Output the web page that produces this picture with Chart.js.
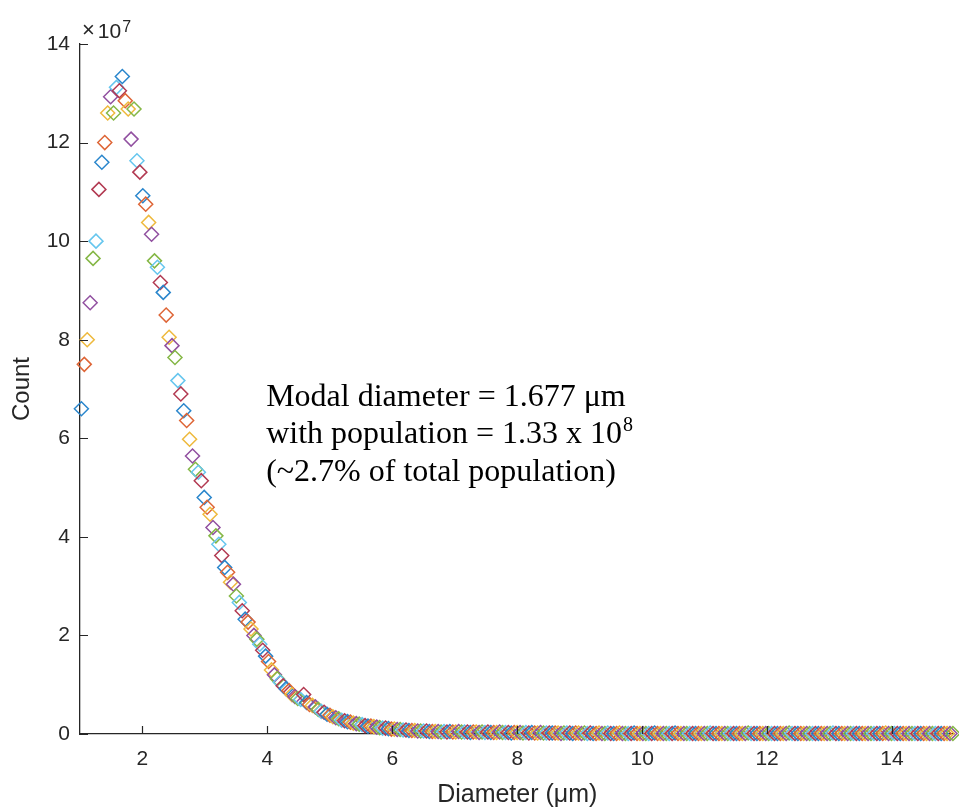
<!DOCTYPE html>
<html><head><meta charset="utf-8">
<script src="https://cdn.jsdelivr.net/npm/chart.js@4/dist/chart.umd.min.js"></script>
<style>html,body{margin:0;padding:0;background:#fff;overflow:hidden;} #wrap{width:963px;height:811px;}</style>
</head><body><div id="wrap"><canvas id="c" width="963" height="811"></canvas></div>
<script>
// Bin grid (diameter, µm)
const binStart = 1.022;
const binWidth = 0.04682;
// Counts per bin, in units of 1e7
const counts = [
6.60,7.50,8.00,8.75,9.65,10.00,11.05,11.60,12.00,12.60,
12.93,12.60,13.12,13.05,13.34,12.85,12.68,12.07,12.68,11.63,
11.40,10.92,10.75,10.38,10.14,9.60,9.47,9.16,8.96,8.50,
8.05,7.88,7.64,7.17,6.90,6.56,6.36,5.98,5.64,5.37,
5.31,5.14,4.80,4.60,4.46,4.19,4.02,3.85,3.62,3.38,
3.28,3.08,3.04,2.80,2.67,2.50,2.33,2.27,2.13,2.00,
1.92,1.82,1.70,1.58,1.47,1.30,1.20,1.12,1.05,0.98,
0.92,0.88,0.80,0.76,0.72,0.70,0.80,0.64,0.60,0.58,
0.55,0.50,0.46,0.44,0.40,0.38,0.35,0.33,0.31,0.28,
0.27,0.25,0.24,0.22,0.21,0.20,0.19,0.17,0.16,0.16,
0.15,0.14,0.13,0.12,0.12,0.11,0.10,0.10,0.09,0.09,
0.08,0.08,0.07,0.07,0.07,0.06,0.06,0.06,0.06,0.05,
0.05,
0.05,0.05,0.04,0.05,0.04,0.05,0.04,0.04,0.05,0.04,
0.04,0.04,0.03,0.04,0.04,0.03,0.04,0.03,0.04,0.03,
0.03,0.03,0.04,0.03,0.03,0.03,0.02,0.03,0.03,0.03,
0.02,0.03,0.02,0.03,0.02,0.02,0.03,0.02,0.02,0.02,
0.02,0.02,0.02,0.01,0.02,0.02,0.02,0.01,0.02,0.02,
0.01,0.02,0.01,0.02,0.01,0.01,0.02,0.01,0.01,0.02,
0.01,0.01,0.01,0.02,0.01,0.01,0.01,0.01,0.02,0.01,
0.01,0.01,0.01,0.01,0.01,0.02,0.01,0.01,0.01,0.01,
0.01,0.01,0.02,0.01,0.01,0.01,0.01,0.01,0.01,0.01,
0.01,0.01,0.01,0.01,0.02,0.01,0.01,0.01,0.01,0.01,
0.01,0.01,0.01,0.01,0.01,0.01,0.01,0.02,0.01,0.01,
0.01,0.01,0.01,0.01,0.01,0.01,0.01,0.01,0.01,0.01,
0.01,0.02,0.01,0.01,0.01,0.01,0.01,0.01,0.01,0.01,
0.01,0.01,0.01,0.01,0.01,0.01,0.02,0.01,0.01,0.01,
0.01,0.01,0.01,0.01,0.01,0.01,0.01,0.01,0.01,0.01,
0.01,0.01,0.01,0.01,0.02,0.01,0.01,0.01,0.01,0.01,
0.01,0.01,0.01,0.01,0.01,0.01,0.01,0.01,0.01,0.01,
0.01,0.01,0.01,0.01,0.01,0.01,0.01,0.01
];
const diameters = counts.map((_, i) => +(binStart + i * binWidth).toFixed(4));
const markerColors = ['#2A86CC','#DE6536','#EEB93C','#9150A0','#85B746','#66C6EE','#B23A52'];
const xTicks = [2, 4, 6, 8, 10, 12, 14];
const yTicks = [0, 2, 4, 6, 8, 10, 12, 14];
const xTitle = 'Diameter (\u03BCm)';
const yTitle = 'Count';
const exponentTimes = '\u00D7';
const exponentBase = '10';
const exponentPower = '7';
const annotLines = ['Modal diameter = 1.677 \u03BCm', 'with population = 1.33 x 10', '(~2.7% of total population)'];
const annotSup = '8';
const annotAnchor = { x: 3.98, y: 6.66 };

const axisColor = '#262626';
const sansFamily = "'Liberation Sans', Arial, sans-serif";
const points = counts.map((v, i) => ({ x: diameters[i], y: v }));

const innerTicks = {
  id: 'innerTicks',
  afterDraw(chart) {
    const { ctx, scales: { x, y }, chartArea } = chart;
    ctx.save();
    ctx.strokeStyle = axisColor;
    ctx.lineWidth = 1.2;
    ctx.beginPath();
    xTicks.forEach(v => { const p = Math.round(x.getPixelForValue(v)) + 0.5; ctx.moveTo(p, chartArea.bottom); ctx.lineTo(p, chartArea.bottom - 8); });
    yTicks.forEach(v => { const p = Math.round(y.getPixelForValue(v)) + 0.5; ctx.moveTo(chartArea.left, p); ctx.lineTo(chartArea.left + 8, p); });
    ctx.stroke();
    // exponent label
    ctx.fillStyle = axisColor;
    ctx.textBaseline = 'alphabetic';
    ctx.textAlign = 'left';
    const ex = chartArea.left + 2, ey = chartArea.top - 6;
    ctx.font = "22px " + sansFamily;
    ctx.fillText(exponentTimes, ex, ey - 1);
    const wt = ctx.measureText(exponentTimes).width;
    ctx.font = "21px " + sansFamily;
    ctx.fillText(exponentBase, ex + wt + 3, ey);
    const wb = ctx.measureText(exponentBase).width;
    ctx.font = "16px " + sansFamily;
    ctx.fillText(exponentPower, ex + wt + 3 + wb + 1, ey - 6);
    // annotation
    ctx.fillStyle = '#000';
    ctx.font = "32px 'Liberation Serif', 'Times New Roman', serif";
    const ax = x.getPixelForValue(annotAnchor.x), ay = y.getPixelForValue(annotAnchor.y);
    const lh = 37.5;
    annotLines.forEach((t, i) => ctx.fillText(t, ax, ay + i * lh));
    const w2 = ctx.measureText(annotLines[1]).width;
    ctx.font = "20px 'Liberation Serif', 'Times New Roman', serif";
    ctx.fillText(annotSup, ax + w2 + 1, ay + lh - 12);
    ctx.restore();
  }
};

new Chart(document.getElementById('c'), {
  type: 'scatter',
  data: { datasets: [{
    data: points,
    showLine: false,
    pointStyle: 'rectRot',
    pointRadius: 7,
    pointHoverRadius: 7,
    pointBorderWidth: 1.5,
    pointBackgroundColor: 'rgba(0,0,0,0)',
    pointBorderColor: c => markerColors[c.dataIndex % markerColors.length],
    clip: false
  }]},
  options: {
    responsive: false,
    animation: false,
    devicePixelRatio: 1,
    events: [],
    layout: { padding: { top: 44, left: 0, right: 0, bottom: 0 } },
    plugins: { legend: { display: false }, tooltip: { enabled: false } },
    scales: {
      x: {
        type: 'linear', min: 1, max: 15,
        grid: { display: false, drawTicks: false },
        border: { display: true, color: axisColor, width: 1.3 },
        ticks: { color: axisColor, font: { family: sansFamily, size: 21 }, padding: 13, maxRotation: 0, autoSkip: false },
        afterBuildTicks: s => { s.ticks = xTicks.map(v => ({ value: v })); },
        afterFit: s => { s.height = 77; s.paddingLeft = 0; s.paddingRight = 0; },
        title: { display: true, text: xTitle, color: axisColor, font: { family: sansFamily, size: 25, lineHeight: 1.2 }, padding: { top: 0, bottom: 1 } }
      },
      y: {
        type: 'linear', min: 0, max: 14,
        grid: { display: false, drawTicks: false },
        border: { display: true, color: axisColor, width: 1.3 },
        ticks: { color: axisColor, font: { family: sansFamily, size: 21 }, padding: 10, autoSkip: false },
        afterBuildTicks: s => { s.ticks = yTicks.map(v => ({ value: v })); },
        afterFit: s => { s.width = 80; s.paddingTop = 0; s.paddingBottom = 0; },
        title: { display: true, text: yTitle, color: axisColor, font: { family: sansFamily, size: 24, lineHeight: 1.2 }, padding: { top: 8, bottom: 0 } }
      }
    }
  },
  plugins: [innerTicks]
});
</script></body></html>
